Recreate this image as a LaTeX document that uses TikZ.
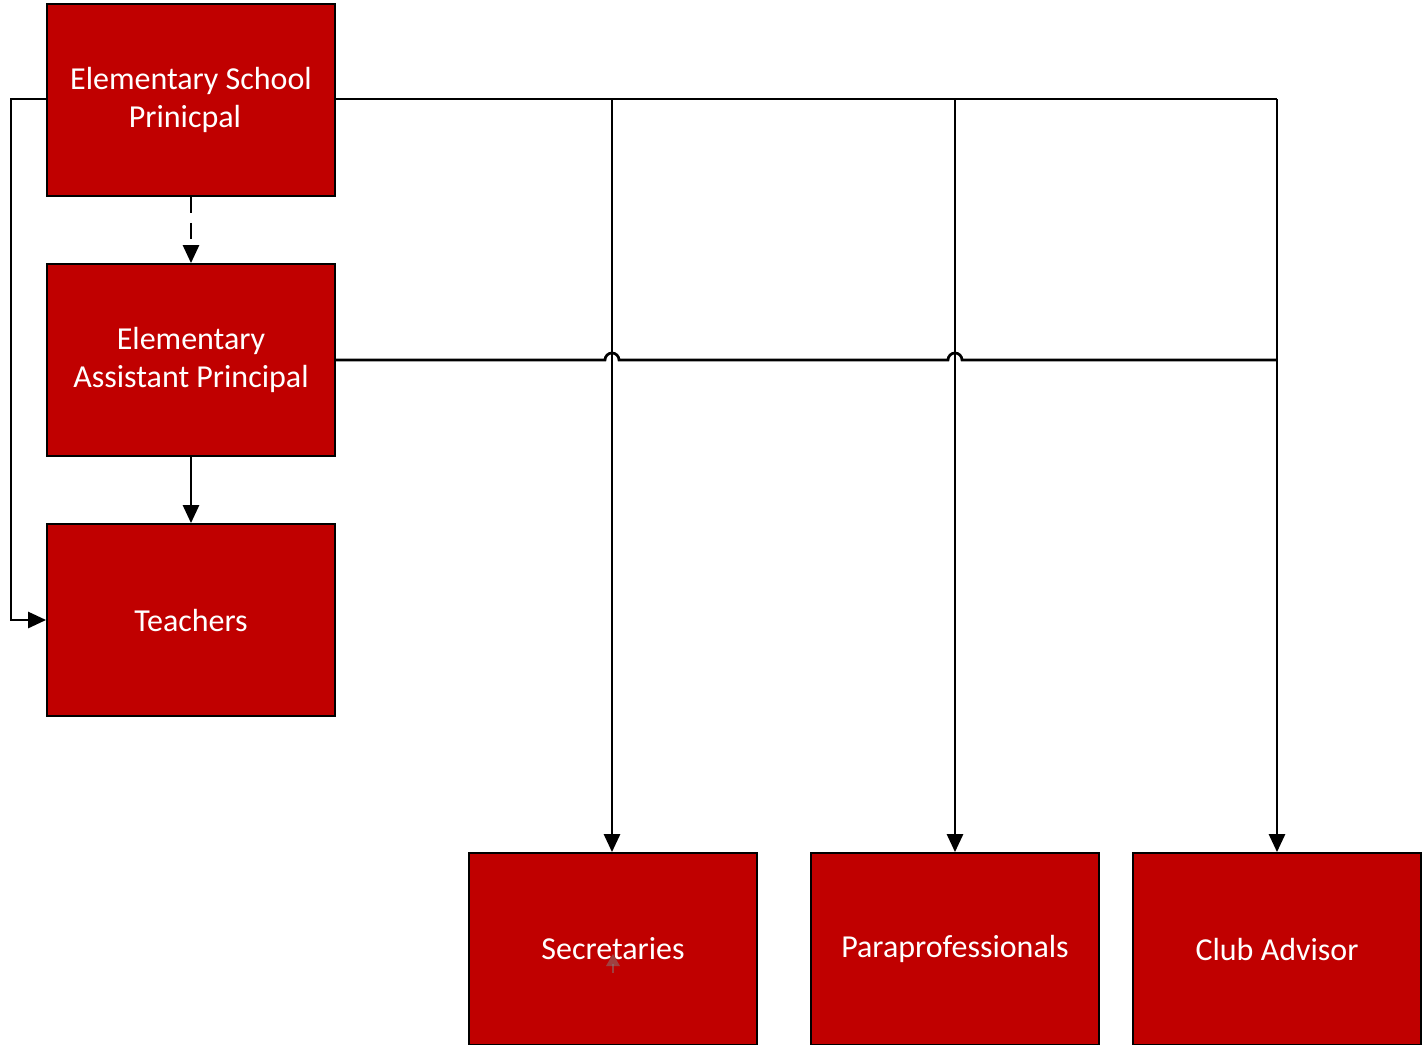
\documentclass[tikz,border=0pt]{standalone}
\usepackage{fontspec}
\setmainfont{Carlito}
\usetikzlibrary{arrows.meta}
\definecolor{boxred}{RGB}{192,0,0}
\begin{document}
\begin{tikzpicture}[x=0.5pt,y=-0.5pt,
  orgbox/.style={draw=black,line width=0.9pt,fill=boxred,text=white,
    minimum width=144pt,minimum height=96pt,inner sep=0pt,align=center,
    font=\fontsize{16pt}{19pt}\selectfont},
  link/.style={line width=1.35pt,draw=black},
  tip/.style={-{Triangle[length=9pt,width=8pt]}}]
\useasboundingbox (0,0) rectangle (1426,1045);
\fill[white] (0,0) rectangle (1426,1045);

% boxes
\node[orgbox] (prin)  at (191,100) {Elementary School\\Prinicpal\hspace*{6pt}};
\node[orgbox] (asst)  at (191,360) {Elementary\\Assistant Principal};
\node[orgbox] (teach) at (191,620) {Teachers};
\node[orgbox] (sec)   at (613,949) {Secretaries};
\node[orgbox] (para)  at (955,949) {Paraprofessionals};
\node[orgbox] (club)  at (1277,949) {Club Advisor};

% junction points
\coordinate (jsec)  at (612,99);
\coordinate (jpara) at (955,99);
\coordinate (jclub) at (1277,99);
\coordinate (lft)   at (11,99);

% principal to the support staff
\draw[link] (prin.east |- jsec) -- (jclub);
\draw[link,tip] (jsec) -- (jsec |- sec.north);
\draw[link,tip] (jpara) -- (jpara |- para.north);
\draw[link,tip] (jclub) -- (jclub |- club.north);

% assistant principal joins the same lines, hopping over the verticals
\draw[link] (asst.east) -- (605,360) arc[start angle=180,end angle=0,radius=3.5pt]
  -- (948,360) arc[start angle=180,end angle=0,radius=3.5pt] -- (1277,360);

% principal to teachers, around the left side
\draw[link,tip] (prin.west |- lft) -- (lft) -- (lft |- teach.west) -- (teach.west);

% vertical chain
\draw[link,tip,dash pattern=on 8pt off 5pt] (prin.south) -- (asst.north);
\draw[link,tip] (asst.south) -- (teach.north);

% faint marker inside the secretaries box
\fill[gray,opacity=0.5] (613,954) -- (620,966) -- (606,966) -- cycle;
\draw[gray,opacity=0.5,line width=1.2pt] (613,964) -- (613,973);
\end{tikzpicture}
\end{document}
